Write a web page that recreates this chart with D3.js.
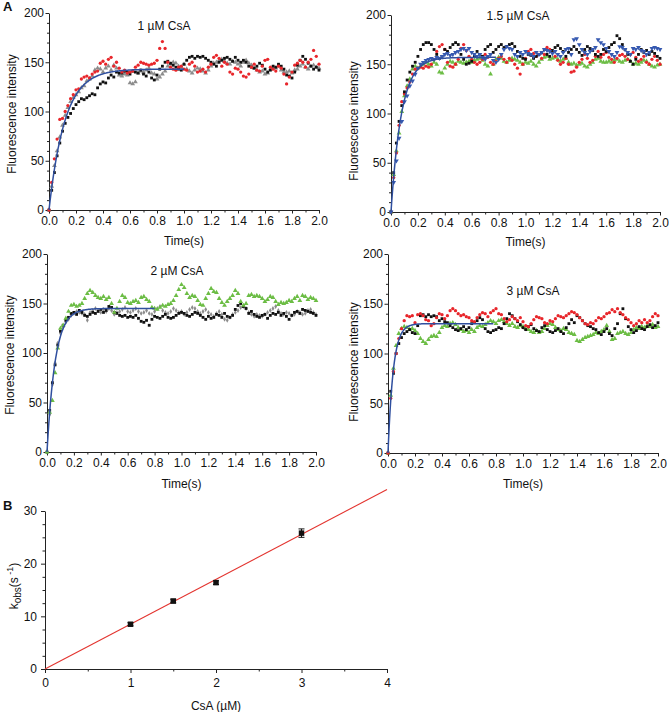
<!DOCTYPE html>
<html><head><meta charset="utf-8">
<script src="https://cdn.jsdelivr.net/npm/d3@7/dist/d3.min.js"></script>
<style>
body{margin:0;background:#fff}
svg text{font-family:"Liberation Sans",Arial,Helvetica,sans-serif;fill:#111}
</style>
</head><body>
<svg id="chart" width="669" height="712"></svg>
<script>
// ---------------- DATA ----------------
const times = [0,0.02,0.04,0.06,0.08,0.1,0.12,0.14,0.16,0.18,
0.2,0.22,0.24,0.26,0.28,0.3,0.32,0.34,0.36,0.38,
0.4,0.42,0.44,0.46,0.48,0.5,0.52,0.54,0.56,0.58,
0.6,0.62,0.64,0.66,0.68,0.7,0.72,0.74,0.76,0.78,
0.8,0.82,0.84,0.86,0.88,0.9,0.92,0.94,0.96,0.98,
1,1.02,1.04,1.06,1.08,1.1,1.12,1.14,1.16,1.18,
1.2,1.22,1.24,1.26,1.28,1.3,1.32,1.34,1.36,1.38,
1.4,1.42,1.44,1.46,1.48,1.5,1.52,1.54,1.56,1.58,
1.6,1.62,1.64,1.66,1.68,1.7,1.72,1.74,1.76,1.78,
1.8,1.82,1.84,1.86,1.88,1.9,1.92,1.94,1.96,1.98,
2];

// Panel 1: 1 µM CsA
const p1Red = [0,28,52,72,92,93,100,106,113,117,
122,123,133,135,136,134,138,140,141,149,
151,148,153,155,146,150,144,140,142,139,
140,141,145,147,150,149,148,147,148,149,
152,164,171,164,150,145,143,142,145,146,
143,142,148,150,146,140,141,143,140,145,
148,155,157,154,146,150,148,140,138,144,
143,140,136,135,138,145,148,142,141,146,
152,153,145,143,141,146,144,138,128,135,
140,147,149,152,150,145,150,153,162,156,
148];
const p1Black = [0,20,38,55,68,80,88,94,98,103,
107,110,113,112,114,116,118,117,124,128,
130,129,134,137,135,140,139,139,141,140,
138,141,140,139,142,138,136,140,134,132,
137,143,146,150,151,149,147,145,143,142,
148,152,155,156,154,156,155,156,154,152,
150,148,146,150,152,154,155,153,151,155,
152,150,152,150,146,145,144,146,149,147,
143,140,142,146,145,148,146,143,137,136,
134,140,147,152,156,153,149,146,143,145,
142];
const p1Gray = [0,24,45,60,74,86,96,104,110,114,
117,120,124,126,131,133,136,142,144,143,
140,144,146,142,147,144,137,136,138,137,
129,128,130,139,141,140,142,144,139,138,
133,135,138,141,146,148,150,149,146,145,
148,143,141,139,142,144,143,141,139,142,
146,149,150,152,153,151,149,148,151,150,
148,146,150,152,149,147,144,142,140,141,
138,139,143,145,144,146,142,140,140,141,
139,142,143,146,148,145,143,146,147,145,
144];

// Panel 2: 1.5 µM CsA
const p2Black = [0,40,70,92,108,122,134,142,148,152,
158,165,170,172,172,170,165,160,156,158,
165,163,167,170,172,170,160,155,150,151,
153,158,163,160,158,165,168,170,162,165,
168,170,167,168,170,171,168,163,158,156,
155,160,159,156,158,160,162,165,160,158,
164,167,169,166,163,158,162,165,168,165,
162,159,165,168,166,164,160,158,160,165,
163,167,170,172,179,176,170,165,160,153,
150,155,160,165,162,164,160,163,161,158,
156];
const p2Red = [0,35,60,88,112,120,126,132,140,145,
146,147,146,148,147,150,155,163,168,170,
165,152,148,147,150,155,166,170,164,158,
155,152,150,152,155,160,157,152,150,153,
156,158,155,152,156,154,150,146,140,150,
156,163,165,161,158,160,156,160,167,165,
162,158,154,150,152,156,150,142,143,147,
152,155,160,156,152,154,158,163,157,160,
162,157,155,152,156,159,160,158,155,160,
162,157,153,155,158,152,150,155,158,154,
150];
const p2Blue = [0,30,52,75,92,112,118,128,133,140,
146,150,152,154,155,156,155,157,156,158,
160,161,159,160,162,163,165,166,164,166,
162,160,158,160,157,155,158,160,154,152,
155,160,165,168,166,165,160,158,162,160,
163,161,160,158,162,160,162,165,164,163,
161,163,160,158,162,165,166,160,175,176,
170,165,162,160,163,165,167,175,172,170,
166,163,160,158,162,168,167,165,162,160,
166,165,167,164,163,160,162,166,167,166,
165];
const p2Green = [0,38,62,80,102,118,128,135,145,148,
146,148,150,152,150,148,152,150,142,141,
146,150,153,152,150,153,152,151,152,153,
152,154,155,156,154,150,148,140,150,155,
157,156,153,152,154,156,155,154,152,150,
152,151,153,150,148,152,155,157,158,155,
156,157,155,153,155,156,152,150,151,149,
150,151,148,147,150,152,155,156,153,152,
152,153,152,154,155,153,152,154,155,153,
150,151,150,152,154,153,150,148,147,149,
150];

// Panel 3: 2 µM CsA
const p3Green = [0,40,52,80,105,125,128,135,142,148,
149,147,148,150,155,160,163,161,158,156,
155,157,154,156,150,141,145,152,158,156,
151,150,152,153,151,156,157,154,152,146,
145,144,146,148,147,149,150,153,158,164,
169,166,160,156,158,157,153,149,148,155,
160,165,162,161,155,151,148,152,155,158,
163,160,152,148,150,158,159,157,158,157,
155,152,154,157,156,152,149,151,150,151,
153,152,155,157,153,158,157,154,156,155,
153];
const p3Black = [0,42,70,88,108,122,128,133,136,140,
141,139,143,141,138,137,139,141,140,142,
144,141,143,147,146,141,140,138,137,138,
136,137,136,138,135,132,131,133,128,134,
137,136,135,137,139,136,135,136,138,140,
141,140,138,137,139,141,140,138,136,134,
137,135,136,139,138,136,140,137,136,138,
144,148,150,147,145,140,142,139,137,136,
138,139,135,138,140,139,141,138,140,137,
134,138,141,142,140,144,143,142,141,140,
138];
const p3Gray = [0,38,68,90,110,120,126,131,134,138,
140,142,141,140,139,133,141,143,145,143,
141,144,142,145,143,139,141,142,144,146,
142,141,143,145,142,140,141,143,140,139,
142,145,147,143,141,140,142,145,143,141,
142,139,141,144,146,145,142,140,142,144,
141,139,137,140,142,139,134,133,136,139,
141,143,146,147,145,141,139,137,139,138,
137,139,141,143,145,147,143,140,139,141,
140,138,139,142,141,139,140,143,144,141,
139];

// Panel 4: 3 µM CsA
const p4Red = [0,55,82,100,115,125,133,138,137,138,
131,139,140,138,134,133,128,130,136,140,
139,135,138,143,145,143,140,138,139,137,
136,133,132,136,139,141,140,137,141,143,
145,140,139,135,132,134,137,135,133,136,
132,128,127,130,134,137,136,135,131,130,
133,132,135,138,137,136,138,140,142,141,
139,136,133,130,129,131,130,133,136,135,
137,140,141,144,142,145,141,139,136,134,
131,128,130,133,131,134,131,133,137,140,
138];
const p4Black = [0,62,80,100,110,116,120,122,124,121,
120,128,138,139,137,139,137,138,137,133,
135,132,131,128,126,124,123,125,127,124,
126,130,131,133,136,134,125,122,121,123,
124,126,125,130,135,140,138,135,132,129,
126,124,127,129,125,123,122,126,128,124,
122,121,123,125,122,120,126,130,134,131,
138,136,133,130,128,127,125,124,121,119,
122,125,120,118,125,130,140,145,135,127,
124,121,123,127,125,124,127,129,126,128,
131];
const p4Green = [0,58,85,108,120,125,127,126,124,125,
123,120,115,112,110,114,117,118,117,121,
126,128,127,130,131,129,126,124,122,123,
121,124,122,126,128,127,129,131,133,132,
130,133,134,132,130,128,130,127,126,128,
127,125,124,122,121,123,121,122,125,128,
130,129,126,124,123,125,124,121,120,119,
113,112,114,116,117,118,119,121,120,122,
124,128,122,114,115,120,121,122,120,119,
121,124,126,125,127,126,128,127,129,126,
127];

// single-exponential fit parameters per panel
const panelTitles = ["1 µM CsA", "1.5 µM CsA", "2 µM CsA", "3 µM CsA"];
const fitAmp = [143, 157, 145, 130];
const fitK = [8.5, 12.9, 16.4, 25.8];
const fitEnd = [1.0, 0.78, 0.8, 0.78];

const timeTicks = [0, 0.2, 0.4, 0.6, 0.8, 1.0, 1.2, 1.4, 1.6, 1.8, 2.0];
const timeMinorTicks = [0.1, 0.3, 0.5, 0.7, 0.9, 1.1, 1.3, 1.5, 1.7, 1.9];
const fluorTicks = [0, 50, 100, 150, 200];
const fluorMinorTicks = [10,20,30,40,60,70,80,90,110,120,130,140,160,170,180,190];

// Panel B
const csaConc = [1, 1.5, 2, 3];
const kobs = [8.5, 12.9, 16.4, 25.8];
const kobsErr = [0.3, 0.35, 0.35, 0.8];
const kobsFit = [8.52];           // slope of linear fit through origin
const concTicks = [0, 1, 2, 3, 4];
const concMinorTicks = [0.5, 1.5, 2.5, 3.5];
const kobsTicks = [0, 10, 20, 30];
const kobsMinorTicks = [2.5, 5, 7.5, 12.5, 15, 17.5, 22.5, 25, 27.5];

// ---------------- DRAW ----------------
const svg = d3.select("#chart");
const COL = {black:"#111111", red:"#e8262b", gray:"#8c8c8c", blue:"#3659b0", green:"#6cbd45", fit:"#2f4f9f"};

const panels = [
  {left:49, right:319, top:13, bottom:210, titleX:164, titleY:30, ylabX:12, ylabY:114, timeY:245,
   series:[{v:p1Gray,s:"tri",c:COL.gray},{v:p1Black,s:"sq",c:COL.black},{v:p1Red,s:"circ",c:COL.red}]},
  {left:391, right:660, top:15, bottom:212, titleX:518, titleY:20, ylabX:354, ylabY:121, timeY:246,
   series:[{v:p2Green,s:"tri",c:COL.green},{v:p2Red,s:"circ",c:COL.red},{v:p2Black,s:"sq",c:COL.black},{v:p2Blue,s:"tridown",c:COL.blue}]},
  {left:47, right:316, top:254, bottom:452, titleX:177, titleY:275, ylabX:10, ylabY:355, timeY:488,
   series:[{v:p3Gray,s:"diam",c:COL.gray},{v:p3Black,s:"sq",c:COL.black},{v:p3Green,s:"tri",c:COL.green}]},
  {left:388, right:658, top:254, bottom:453, titleX:533, titleY:295, ylabX:354, ylabY:362, timeY:488,
   series:[{v:p4Green,s:"tri",c:COL.green},{v:p4Black,s:"sq",c:COL.black},{v:p4Red,s:"circ",c:COL.red}]}
];

const symGen = {
  sq: d3.symbol().type(d3.symbolSquare).size(8),
  circ: d3.symbol().type(d3.symbolCircle).size(8.5),
  tri: d3.symbol().type(d3.symbolTriangle).size(10),
  tridown: d3.symbol().type(d3.symbolTriangle).size(10),
  diam: d3.symbol().type(d3.symbolDiamond).size(7)
};

function styleAxis(g) {
  g.attr("font-family", null).attr("font-size", null);
  g.selectAll("path.domain").attr("stroke", "#222").attr("stroke-width", 1);
  g.selectAll(".tick line").attr("stroke", "#222").attr("stroke-width", 1);
  g.selectAll(".tick text").attr("fill", "#111").style("font-size", "12px");
}

panels.forEach((P, i) => {
  const x = d3.scaleLinear().domain([0, 2]).range([P.left, P.right]);
  const y = d3.scaleLinear().domain([0, 200]).range([P.bottom, P.top]);
  const g = svg.append("g");

  // minor ticks
  g.append("g").attr("transform", `translate(0,${P.bottom})`)
    .call(d3.axisBottom(x).tickValues(timeMinorTicks).tickSize(2.5).tickFormat(""))
    .call(a => a.select(".domain").remove()).call(styleAxis);
  g.append("g").attr("transform", `translate(${P.left},0)`)
    .call(d3.axisLeft(y).tickValues(fluorMinorTicks).tickSize(2).tickFormat(""))
    .call(a => a.select(".domain").remove()).call(styleAxis);
  // major axes
  g.append("g").attr("transform", `translate(0,${P.bottom})`)
    .call(d3.axisBottom(x).tickValues(timeTicks).tickSize(3.5).tickSizeOuter(0).tickPadding(3).tickFormat(d3.format(".1f")))
    .call(styleAxis);
  g.append("g").attr("transform", `translate(${P.left},0)`)
    .call(d3.axisLeft(y).tickValues(fluorTicks).tickSize(3.5).tickSizeOuter(0).tickPadding(1.5))
    .call(styleAxis);

  // data points
  P.series.forEach(S => {
    g.append("g").selectAll("path").data(S.v).join("path")
      .attr("d", symGen[S.s])
      .attr("transform", (d, j) => `translate(${x(times[j])},${y(d)})` + (S.s === "tridown" ? " rotate(180)" : ""))
      .attr("fill", S.c);
  });

  // fitted single exponential
  const tFit = d3.range(0, fitEnd[i] + 1e-9, 0.004);
  g.append("path")
    .datum(tFit)
    .attr("fill", "none").attr("stroke", COL.fit).attr("stroke-width", 1.5)
    .attr("d", d3.line().x(t => x(t)).y(t => y(fitAmp[i] * (1 - Math.exp(-fitK[i] * t)))));

  // texts
  g.append("text").attr("x", P.titleX).attr("y", P.titleY).attr("text-anchor", "middle")
    .style("font-size", "12px").text(panelTitles[i]);
  g.append("text").attr("transform", `translate(${P.ylabX},${P.ylabY}) rotate(-90)`)
    .attr("text-anchor", "middle").attr("dy", "0.35em").style("font-size", "12px").text("Fluorescence intensity");
  g.append("text").attr("x", (P.left + P.right) / 2).attr("y", P.timeY).attr("text-anchor", "middle")
    .style("font-size", "12px").text("Time(s)");
});

// panel letters
svg.append("text").attr("x", 3).attr("y", 11).style("font-size", "13px").style("font-weight", "bold").text("A");
svg.append("text").attr("x", 3).attr("y", 510).style("font-size", "13px").style("font-weight", "bold").text("B");

// ---------------- Panel B ----------------
{
  const L = {left:45, right:387, top:511, bottom:669};
  const x = d3.scaleLinear().domain([0, 4]).range([L.left, L.right]);
  const y = d3.scaleLinear().domain([0, 30]).range([L.bottom, L.top]);
  const g = svg.append("g");

  g.append("g").attr("transform", `translate(0,${L.bottom})`)
    .call(d3.axisBottom(x).tickValues(concMinorTicks).tickSize(2.5).tickFormat(""))
    .call(a => a.select(".domain").remove()).call(styleAxis);
  g.append("g").attr("transform", `translate(${L.left},0)`)
    .call(d3.axisLeft(y).tickValues(kobsMinorTicks).tickSize(2.5).tickFormat(""))
    .call(a => a.select(".domain").remove()).call(styleAxis);
  g.append("g").attr("transform", `translate(0,${L.bottom})`)
    .call(d3.axisBottom(x).tickValues(concTicks).tickSize(4).tickSizeOuter(0).tickPadding(5).tickFormat(d3.format("d")))
    .call(styleAxis);
  g.append("g").attr("transform", `translate(${L.left},0)`)
    .call(d3.axisLeft(y).tickValues(kobsTicks).tickSize(4).tickSizeOuter(0).tickPadding(4))
    .call(styleAxis);

  // linear fit line
  g.append("line")
    .attr("x1", x(0)).attr("y1", y(0))
    .attr("x2", x(4)).attr("y2", y(kobsFit[0] * 4))
    .attr("stroke", "#e3342f").attr("stroke-width", 1.1);

  // error bars
  const eb = g.append("g").attr("stroke", "#111").attr("stroke-width", 1);
  csaConc.forEach((c, k) => {
    eb.append("line").attr("x1", x(c)).attr("x2", x(c)).attr("y1", y(kobs[k] - kobsErr[k])).attr("y2", y(kobs[k] + kobsErr[k]));
    [kobs[k] - kobsErr[k], kobs[k] + kobsErr[k]].forEach(v =>
      eb.append("line").attr("x1", x(c) - 3).attr("x2", x(c) + 3).attr("y1", y(v)).attr("y2", y(v)));
  });
  g.append("g").selectAll("path").data(csaConc).join("path")
    .attr("d", d3.symbol().type(d3.symbolSquare).size(30))
    .attr("transform", (c, k) => `translate(${x(c)},${y(kobs[k])})`)
    .attr("fill", "#111");

  g.append("text").attr("x", (L.left + L.right) / 2).attr("y", 710).attr("text-anchor", "middle")
    .style("font-size", "12px").text("CsA (µM)");
  const yl = g.append("text").attr("transform", "translate(18,586) rotate(-90)")
    .attr("text-anchor", "middle").style("font-size", "12px");
  yl.append("tspan").text("k");
  yl.append("tspan").attr("dy", 3).style("font-size", "10px").text("obs");
  yl.append("tspan").attr("dy", -3).text("(s");
  yl.append("tspan").attr("dy", -5).style("font-size", "9px").text(" -1");
  yl.append("tspan").attr("dy", 5).text(")");
}
</script>
</body></html>
